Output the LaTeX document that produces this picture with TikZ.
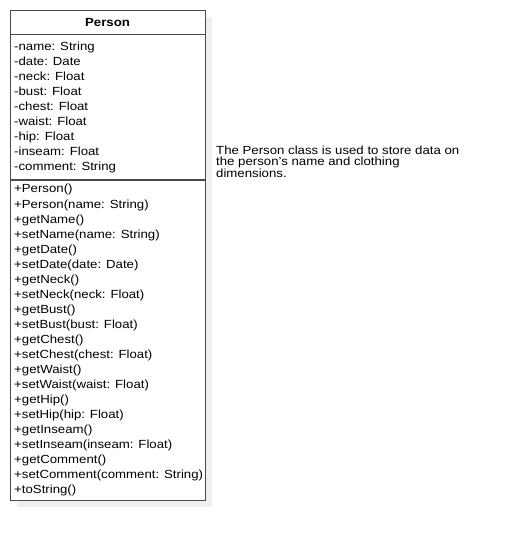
\documentclass[tikz,border=0pt]{standalone}
\usepackage{fontspec}
\setmainfont{Liberation Sans}[FakeStretch=1.12]
\definecolor{boxline}{HTML}{4A4A4A}
\definecolor{shadowc}{HTML}{EFEFEF}
\begin{document}
\begin{tikzpicture}[x=1pt,y=-1pt,
  txt/.style={anchor=base west,inner sep=0pt,font=\fontsize{11.8}{13}\selectfont,text=black},
  ttl/.style={anchor=base,inner sep=0pt,font=\fontsize{11.8}{13}\selectfont\bfseries},
  frame/.style={draw=boxline,line width=1.2pt}]
\useasboundingbox (0,0) rectangle (506,540);
\fill[shadowc] (17,17) rectangle (212,507);
\node[frame,fill=white,minimum width=195pt,minimum height=490pt,anchor=north west,inner sep=0pt] (box) at (10,10) {};
\coordinate (h1l) at (10,34.5); \coordinate (h1r) at (205,34.5);
\coordinate (h2l) at (10,180); \coordinate (h2r) at (205,180);
\draw[frame] (h1l) -- (h1r);
\draw[frame] (h2l) -- (h2r);
\node[ttl] (title) at (107.5,27) {Person};
\foreach \t [count=\i from 0] in {-name: String,-date: Date,-neck: Float,-bust: Float,-chest: Float,-waist: Float,-hip: Float,-inseam: Float,-comment: String}
  \node[txt] (a\i) at (14,50.5+15*\i) {\t};
\foreach \t [count=\i from 0] in {+Person(),+Person(name: String),+getName(),+setName(name: String),+getDate(),+setDate(date: Date),+getNeck(),+setNeck(neck: Float),+getBust(),+setBust(bust: Float),+getChest(),+setChest(chest: Float),+getWaist(),+setWaist(waist: Float),+getHip(),+setHip(hip: Float),+getInseam(),+setInseam(inseam: Float),+getComment(),+setComment(comment: String),+toString()}
  \node[txt] (m\i) at (14,193+15*\i) {\t};
\node[txt] (n1) at (216,155) {The Person class is used to store data on};
\node[txt] (n2) at (216,166) {the person's name and clothing};
\node[txt] (n3) at (216,177) {dimensions.};
\end{tikzpicture}
\end{document}
